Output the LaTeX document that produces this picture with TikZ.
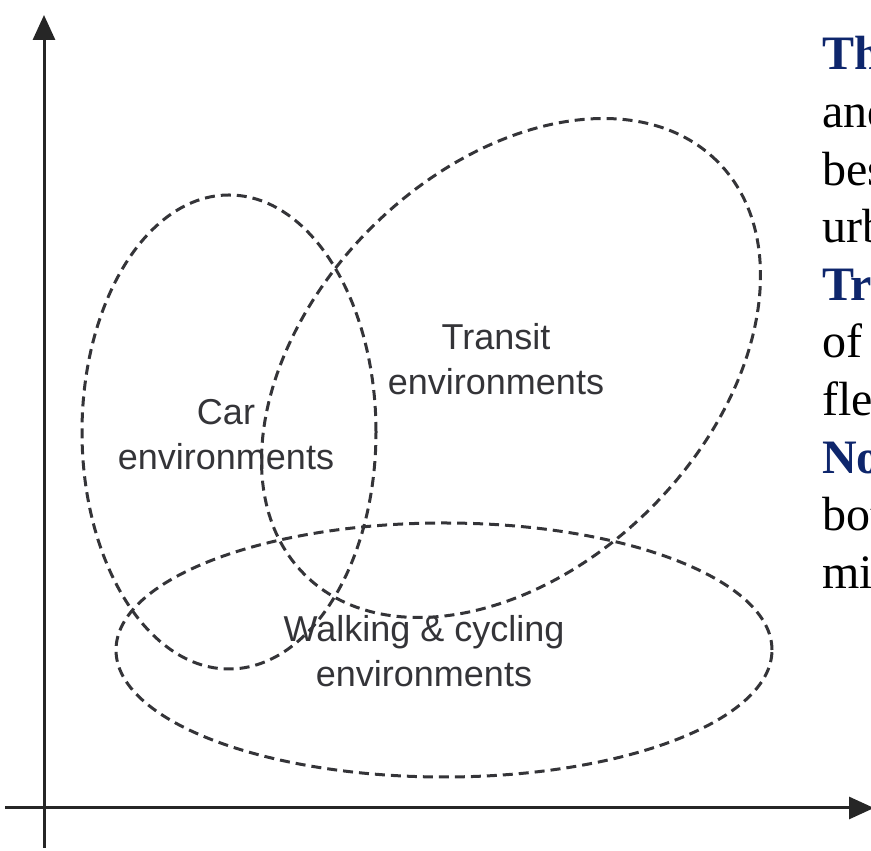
\documentclass[tikz,border=0pt]{standalone}
\usepackage{fontspec}
\setmainfont{Liberation Serif}
\newfontfamily\labelfont{Liberation Sans}
\usetikzlibrary{arrows.meta}

\definecolor{navy}{RGB}{14,38,108}
\definecolor{inkgray}{RGB}{52,52,56}

\begin{document}
\begin{tikzpicture}[x=1pt,y=1pt]
\tikzstyle{axis}= [line width=3pt,draw=black!85,-{Triangle[length=25pt,width=22pt]}]
\tikzstyle{ring}= [draw=inkgray,line width=3pt,dash pattern=on 10pt off 6pt]
\tikzstyle{env}= [align=center,text=inkgray,font=\labelfont\fontsize{36}{45}\selectfont]
\tikzstyle{body}= [anchor=base west,inner sep=0pt,font=\fontsize{48}{57}\selectfont]
\tikzstyle{key}= [body,text=navy,font=\bfseries\fontsize{48}{57}\selectfont]

\clip (0,0) rectangle (871,851);

% axes
\coordinate (ybot) at (44,3);
\coordinate (ytop) at (44,836);
\coordinate (xleft) at (5,43);
\coordinate (xright) at (874,43);
\draw[axis] (ybot) -- (ytop);
\draw[axis] (xleft) -- (xright);

% the three environments
\coordinate (car) at (229,419);
\coordinate (transit) at (511,483);
\coordinate (walk) at (444,201);
\draw[ring] (car) ellipse [x radius=147,y radius=237];
\draw[ring,rotate around={45:(transit)}] (transit) ellipse [x radius=292,y radius=198];
\draw[ring] (walk) ellipse [x radius=328,y radius=127];

\path
	(226,416) node[env] (carlbl) {Car\\environments}
	(496,492) node[env] (transitlbl) {Transit\\environments}
	(424,200) node[env] (walklbl) {Walking \& cycling\\environments}
;

% running text at the right
\path
	(822,781.0) node[key] (l1) {Th}
	(822,723.4) node[body] (l2) {and}
	(822,665.8) node[body] (l3) {bes}
	(822,608.2) node[body] (l4) {urb}
	(822,550.6) node[key] (l5) {Tr}
	(822,493.0) node[body] (l6) {of}
	(822,435.4) node[body] (l7) {fle}
	(822,377.8) node[key] (l8) {No}
	(822,320.2) node[body] (l9) {bot}
	(822,262.6) node[body] (l10) {mi}
;
\end{tikzpicture}
\end{document}
